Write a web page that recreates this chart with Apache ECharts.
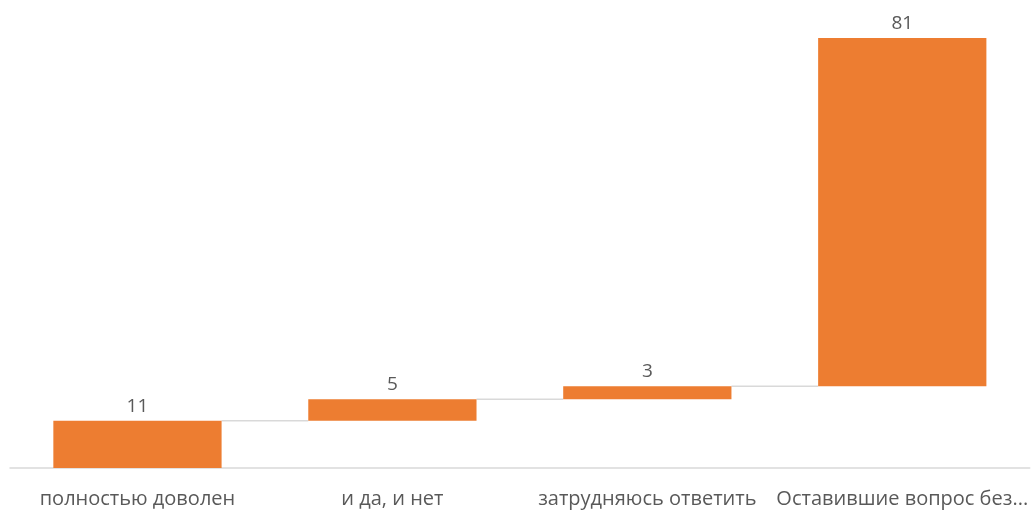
<!DOCTYPE html>
<html><head><meta charset="utf-8">
<script src="https://cdn.jsdelivr.net/npm/echarts@6/dist/echarts.min.js"></script>
<style>html,body{margin:0;padding:0;background:#fff}#c{width:1031px;height:511px}</style>
</head><body><div id="c"></div>
<script>
const categories = ["полностью доволен", "и да, и нет", "затрудняюсь ответить", "Оставившие вопрос без..."];
const values = [11, 5, 3, 81];

const bases = [];
let acc = 0;
for (const v of values) { bases.push(acc); acc += v; }
const tops = values.map((v, i) => bases[i] + v);
const BAR_RATIO = 0.66;

const chart = echarts.init(document.getElementById('c'));
chart.setOption({
  animation: false,
  grid: { left: 10, right: 0, top: 38, bottom: 43 },
  xAxis: {
    type: 'category', data: categories,
    axisLine: { lineStyle: { color: '#d9d9d9', width: 1.5 } },
    axisTick: { show: false },
    axisLabel: { color: '#595959', fontSize: 20, fontFamily: 'Open Sans', margin: 21, interval: 0 }
  },
  yAxis: { type: 'value', min: 0, max: 100, show: false, splitLine: { show: false } },
  series: [
    { type: 'bar', stack: 'w', data: bases, itemStyle: { color: 'transparent' }, barWidth: (BAR_RATIO * 100) + '%', silent: true },
    { type: 'bar', stack: 'w', data: values, itemStyle: { color: '#ED7D31' }, barWidth: (BAR_RATIO * 100) + '%',
      label: { show: true, position: 'top', color: '#595959', fontSize: 19, fontFamily: 'Open Sans', distance: 5 } },
    { type: 'custom', data: tops.slice(0, tops.length - 1).map((t, i) => [i, t]), z: 1,
      renderItem: function (params, api) {
        const i = api.value(0), t = api.value(1);
        const bw = api.size([1, 0])[0] * BAR_RATIO;
        const p1 = api.coord([i, t]);
        const p2 = api.coord([i + 1, t]);
        return { type: 'line', shape: { x1: p1[0] + bw / 2, y1: p1[1], x2: p2[0] - bw / 2, y2: p2[1] },
          style: { stroke: '#d9d9d9', lineWidth: 1.5 } };
      }
    }
  ]
});
</script></body></html>
